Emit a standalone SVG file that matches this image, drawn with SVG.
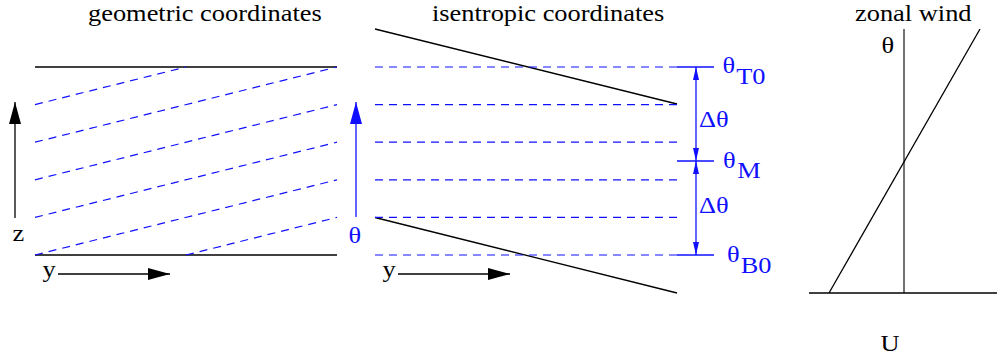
<svg xmlns="http://www.w3.org/2000/svg" width="997" height="358" viewBox="0 0 997 358">
<defs>
<style>
.b{fill:#1010ff}
.s{stroke:#000;stroke-width:1.3;fill:none}
.d{stroke:#1010ff;stroke-width:1.2;stroke-dasharray:8 6;fill:none}
.bl{stroke:#1010ff;stroke-width:1.3;fill:none}
</style>
<marker id="ak" viewBox="0 0 22 12" refX="22" refY="6" markerWidth="22" markerHeight="12" markerUnits="userSpaceOnUse" orient="auto"><path d="M0,0 L22,6 L0,12 Z" fill="#000"/></marker>
<marker id="ab" viewBox="0 0 22 12" refX="22" refY="6" markerWidth="22" markerHeight="12" markerUnits="userSpaceOnUse" orient="auto"><path d="M0,0 L22,6 L0,12 Z" fill="#1010ff"/></marker>
<marker id="as" viewBox="0 0 13 6" refX="13" refY="3" markerWidth="13" markerHeight="6" markerUnits="userSpaceOnUse" orient="auto"><path d="M0,0 L13,3 L0,6 Z" fill="#1010ff"/></marker>
</defs>
<g font-family="Liberation Serif, Times New Roman, serif" font-size="24">
<g id="geometric">
<text transform="translate(88,20.5) scale(1.1,1)">geometric coordinates</text>
<line class="s" x1="35" y1="67" x2="337" y2="67"/>
<line class="s" x1="35" y1="255" x2="337" y2="255"/>
<path class="d" d="M35,104.6 L186,67 M35,142.2 L337,67 M35,179.8 L337,104.6 M35,217.4 L337,142.2 M35,255 L337,179.8 M186,255 L337,217.4"/>
<line class="s" x1="15" y1="218" x2="15" y2="102" marker-end="url(#ak)"/>
<text transform="translate(12.5,241) scale(1.1,1)">z</text>
<line class="s" x1="58" y1="274" x2="170" y2="274" marker-end="url(#ak)"/>
<text transform="translate(42.5,277) scale(1.1,1)">y</text>
</g>
<g id="isentropic">
<text transform="translate(432,20.5) scale(1.1,1)">isentropic coordinates</text>
<line class="s" x1="375" y1="29" x2="677" y2="104"/>
<line class="s" x1="375" y1="217.5" x2="677" y2="293"/>
<path class="d" d="M375,67 H677 M375,104.6 H677 M375,142.2 H677 M375,179.8 H677 M375,217.4 H677 M375,255 H677"/>
<line class="bl" x1="356" y1="217" x2="356" y2="102" marker-end="url(#ab)"/>
<text class="b" transform="translate(348.5,243) scale(1.1,1)">θ</text>
<line class="s" x1="398" y1="274" x2="510" y2="274" marker-end="url(#ak)"/>
<text transform="translate(382.5,277) scale(1.1,1)">y</text>
</g>
<g id="levels">
<path class="bl" d="M677,67 H714 M677,161 H714 M677,255 H714"/>
<line class="bl" x1="696" y1="114" x2="696" y2="67" marker-end="url(#as)"/>
<line class="bl" x1="696" y1="114" x2="696" y2="161" marker-end="url(#as)"/>
<line class="bl" x1="696" y1="208" x2="696" y2="161" marker-end="url(#as)"/>
<line class="bl" x1="696" y1="208" x2="696" y2="255" marker-end="url(#as)"/>
<text class="b" transform="translate(722.5,73.3) scale(1.1,1)">θ<tspan dx="1" dy="10.5">T0</tspan></text>
<text class="b" transform="translate(723,168.3) scale(1.1,1)">θ<tspan dx="1.5" dy="10">M</tspan></text>
<text class="b" transform="translate(727,261.7) scale(1.1,1)">θ<tspan dx="1" dy="11">B0</tspan></text>
<text class="b" transform="translate(699,126.7) scale(1.1,1)">Δθ</text>
<text class="b" transform="translate(699,213.3) scale(1.1,1)">Δθ</text>
</g>
<g id="zonal">
<text transform="translate(855,20.5) scale(1.1,1)">zonal wind</text>
<line x1="904" y1="29" x2="904" y2="293" stroke="#444" stroke-width="1.5"/>
<line class="s" x1="809" y1="293" x2="997" y2="293"/>
<line class="s" x1="829" y1="293" x2="980" y2="29"/>
<text transform="translate(881.5,53.3) scale(1.1,1)">θ</text>
<text transform="translate(880.5,351) scale(1.1,1)">U</text>
</g>
</g>
</svg>
